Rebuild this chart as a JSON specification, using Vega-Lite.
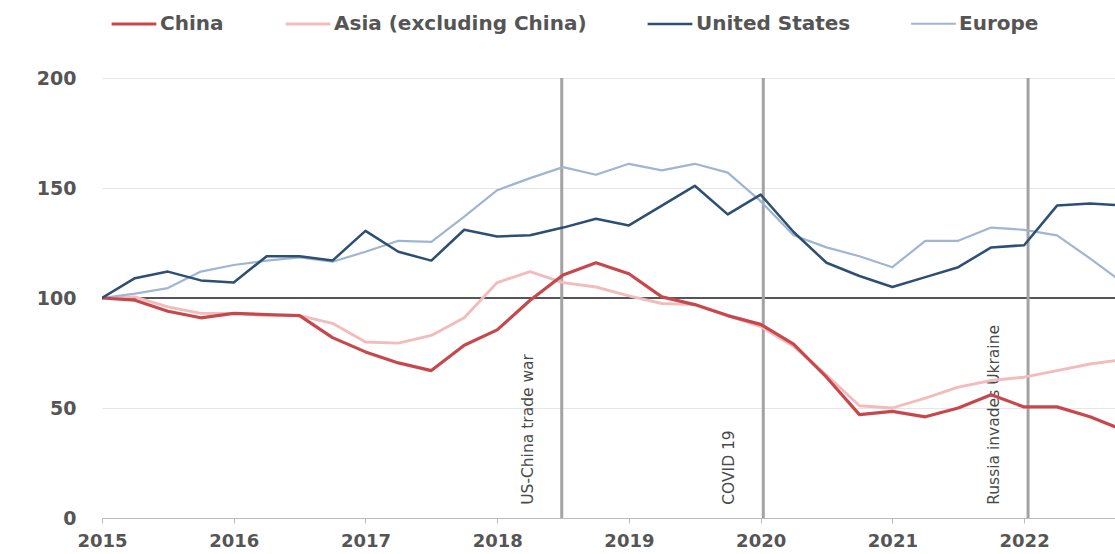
{
  "$schema": "https://vega.github.io/schema/vega-lite/v6.json",
  "width": 1013,
  "height": 440,
  "autosize": "none",
  "padding": {"left": 102, "top": 78, "right": 0, "bottom": 36},
  "background": "white",
  "config": {"view": {"stroke": null}, "font": "DejaVu Sans"},
  "datasets": {
    "events": [
      {"event": "US-China trade war", "t": 2018.49},
      {"event": "COVID 19", "t": 2020.02},
      {"event": "Russia invades Ukraine", "t": 2022.03}
    ],
    "series": [
      {"s": "Asia (excluding China)", "t": 2015.0, "v": 100},
      {"s": "Asia (excluding China)", "t": 2015.25, "v": 100.5},
      {"s": "Asia (excluding China)", "t": 2015.5, "v": 96},
      {"s": "Asia (excluding China)", "t": 2015.75, "v": 93},
      {"s": "Asia (excluding China)", "t": 2016.0, "v": 93},
      {"s": "Asia (excluding China)", "t": 2016.25, "v": 92},
      {"s": "Asia (excluding China)", "t": 2016.5, "v": 92},
      {"s": "Asia (excluding China)", "t": 2016.75, "v": 88.5},
      {"s": "Asia (excluding China)", "t": 2017.0, "v": 80},
      {"s": "Asia (excluding China)", "t": 2017.25, "v": 79.5},
      {"s": "Asia (excluding China)", "t": 2017.5, "v": 83},
      {"s": "Asia (excluding China)", "t": 2017.75, "v": 91},
      {"s": "Asia (excluding China)", "t": 2018.0, "v": 107},
      {"s": "Asia (excluding China)", "t": 2018.25, "v": 112},
      {"s": "Asia (excluding China)", "t": 2018.5, "v": 107},
      {"s": "Asia (excluding China)", "t": 2018.75, "v": 105},
      {"s": "Asia (excluding China)", "t": 2019.0, "v": 101},
      {"s": "Asia (excluding China)", "t": 2019.25, "v": 97.5},
      {"s": "Asia (excluding China)", "t": 2019.5, "v": 97},
      {"s": "Asia (excluding China)", "t": 2019.75, "v": 92},
      {"s": "Asia (excluding China)", "t": 2020.0, "v": 87},
      {"s": "Asia (excluding China)", "t": 2020.25, "v": 78},
      {"s": "Asia (excluding China)", "t": 2020.5, "v": 65},
      {"s": "Asia (excluding China)", "t": 2020.75, "v": 51},
      {"s": "Asia (excluding China)", "t": 2021.0, "v": 50},
      {"s": "Asia (excluding China)", "t": 2021.25, "v": 54.5},
      {"s": "Asia (excluding China)", "t": 2021.5, "v": 59.5},
      {"s": "Asia (excluding China)", "t": 2021.75, "v": 62.5},
      {"s": "Asia (excluding China)", "t": 2022.0, "v": 64},
      {"s": "Asia (excluding China)", "t": 2022.25, "v": 67},
      {"s": "Asia (excluding China)", "t": 2022.5, "v": 70},
      {"s": "Asia (excluding China)", "t": 2022.75, "v": 72},
      {"s": "Europe", "t": 2015.0, "v": 100},
      {"s": "Europe", "t": 2015.25, "v": 102},
      {"s": "Europe", "t": 2015.5, "v": 104.5},
      {"s": "Europe", "t": 2015.75, "v": 112},
      {"s": "Europe", "t": 2016.0, "v": 115},
      {"s": "Europe", "t": 2016.25, "v": 117},
      {"s": "Europe", "t": 2016.5, "v": 118.5},
      {"s": "Europe", "t": 2016.75, "v": 116.5},
      {"s": "Europe", "t": 2017.0, "v": 121},
      {"s": "Europe", "t": 2017.25, "v": 126},
      {"s": "Europe", "t": 2017.5, "v": 125.5},
      {"s": "Europe", "t": 2017.75, "v": 137},
      {"s": "Europe", "t": 2018.0, "v": 149},
      {"s": "Europe", "t": 2018.25, "v": 154.5},
      {"s": "Europe", "t": 2018.5, "v": 159.5},
      {"s": "Europe", "t": 2018.75, "v": 156},
      {"s": "Europe", "t": 2019.0, "v": 161},
      {"s": "Europe", "t": 2019.25, "v": 158},
      {"s": "Europe", "t": 2019.5, "v": 161},
      {"s": "Europe", "t": 2019.75, "v": 157},
      {"s": "Europe", "t": 2020.0, "v": 144},
      {"s": "Europe", "t": 2020.25, "v": 128.5},
      {"s": "Europe", "t": 2020.5, "v": 123},
      {"s": "Europe", "t": 2020.75, "v": 119},
      {"s": "Europe", "t": 2021.0, "v": 114},
      {"s": "Europe", "t": 2021.25, "v": 126},
      {"s": "Europe", "t": 2021.5, "v": 126},
      {"s": "Europe", "t": 2021.75, "v": 132},
      {"s": "Europe", "t": 2022.0, "v": 131},
      {"s": "Europe", "t": 2022.25, "v": 128.5},
      {"s": "Europe", "t": 2022.5, "v": 118},
      {"s": "Europe", "t": 2022.75, "v": 107},
      {"s": "China", "t": 2015.0, "v": 100},
      {"s": "China", "t": 2015.25, "v": 99},
      {"s": "China", "t": 2015.5, "v": 94},
      {"s": "China", "t": 2015.75, "v": 91},
      {"s": "China", "t": 2016.0, "v": 93},
      {"s": "China", "t": 2016.25, "v": 92.5},
      {"s": "China", "t": 2016.5, "v": 92},
      {"s": "China", "t": 2016.75, "v": 82},
      {"s": "China", "t": 2017.0, "v": 75.5},
      {"s": "China", "t": 2017.25, "v": 70.5},
      {"s": "China", "t": 2017.5, "v": 67},
      {"s": "China", "t": 2017.75, "v": 78.5},
      {"s": "China", "t": 2018.0, "v": 85.5},
      {"s": "China", "t": 2018.25, "v": 99},
      {"s": "China", "t": 2018.5, "v": 110.5},
      {"s": "China", "t": 2018.75, "v": 116},
      {"s": "China", "t": 2019.0, "v": 111},
      {"s": "China", "t": 2019.25, "v": 100.5},
      {"s": "China", "t": 2019.5, "v": 97},
      {"s": "China", "t": 2019.75, "v": 92},
      {"s": "China", "t": 2020.0, "v": 88},
      {"s": "China", "t": 2020.25, "v": 79},
      {"s": "China", "t": 2020.5, "v": 64},
      {"s": "China", "t": 2020.75, "v": 47},
      {"s": "China", "t": 2021.0, "v": 48.5},
      {"s": "China", "t": 2021.25, "v": 46},
      {"s": "China", "t": 2021.5, "v": 50},
      {"s": "China", "t": 2021.75, "v": 56},
      {"s": "China", "t": 2022.0, "v": 50.5},
      {"s": "China", "t": 2022.25, "v": 50.5},
      {"s": "China", "t": 2022.5, "v": 46},
      {"s": "China", "t": 2022.75, "v": 40},
      {"s": "United States", "t": 2015.0, "v": 100},
      {"s": "United States", "t": 2015.25, "v": 109},
      {"s": "United States", "t": 2015.5, "v": 112},
      {"s": "United States", "t": 2015.75, "v": 108},
      {"s": "United States", "t": 2016.0, "v": 107},
      {"s": "United States", "t": 2016.25, "v": 119},
      {"s": "United States", "t": 2016.5, "v": 119},
      {"s": "United States", "t": 2016.75, "v": 117},
      {"s": "United States", "t": 2017.0, "v": 130.5},
      {"s": "United States", "t": 2017.25, "v": 121},
      {"s": "United States", "t": 2017.5, "v": 117},
      {"s": "United States", "t": 2017.75, "v": 131},
      {"s": "United States", "t": 2018.0, "v": 128},
      {"s": "United States", "t": 2018.25, "v": 128.5},
      {"s": "United States", "t": 2018.5, "v": 132},
      {"s": "United States", "t": 2018.75, "v": 136},
      {"s": "United States", "t": 2019.0, "v": 133},
      {"s": "United States", "t": 2019.25, "v": 142},
      {"s": "United States", "t": 2019.5, "v": 151},
      {"s": "United States", "t": 2019.75, "v": 138},
      {"s": "United States", "t": 2020.0, "v": 147},
      {"s": "United States", "t": 2020.25, "v": 130},
      {"s": "United States", "t": 2020.5, "v": 116},
      {"s": "United States", "t": 2020.75, "v": 110},
      {"s": "United States", "t": 2021.0, "v": 105},
      {"s": "United States", "t": 2021.25, "v": 109.5},
      {"s": "United States", "t": 2021.5, "v": 114},
      {"s": "United States", "t": 2021.75, "v": 123},
      {"s": "United States", "t": 2022.0, "v": 124},
      {"s": "United States", "t": 2022.25, "v": 142},
      {"s": "United States", "t": 2022.5, "v": 143},
      {"s": "United States", "t": 2022.75, "v": 142}
    ]
  },
  "layer": [
    {
      "data": {"values": [{"v": 100}]},
      "mark": {"type": "rule", "color": "#555555", "strokeWidth": 2},
      "encoding": {
        "y": {"field": "v", "type": "quantitative", "scale": {"domain": [0, 200], "nice": false}}
      }
    },
    {
      "data": {"name": "events"},
      "mark": {"type": "rule", "color": "#a3a3a3", "strokeWidth": 3},
      "encoding": {
        "x": {"field": "t", "type": "quantitative", "scale": {"domain": [2015, 2022.69], "nice": false, "zero": false}}
      }
    },
    {
      "data": {"name": "events"},
      "mark": {"type": "text", "angle": 270, "align": "left", "baseline": "bottom", "dy": -26, "fontSize": 15.5, "color": "#4a4a4a", "font": "DejaVu Sans"},
      "encoding": {
        "x": {"field": "t", "type": "quantitative"},
        "y": {"datum": 6, "type": "quantitative"},
        "text": {"field": "event", "type": "nominal"}
      }
    },
    {
      "data": {"name": "series"},
      "mark": {"type": "line", "clip": true, "strokeJoin": "round", "strokeCap": "round"},
      "encoding": {
        "x": {
          "field": "t", "type": "quantitative",
          "scale": {"domain": [2015, 2022.69], "nice": false, "zero": false},
          "axis": {
            "title": null, "values": [2015, 2016, 2017, 2018, 2019, 2020, 2021, 2022], "format": "d",
            "labelFlush": false, "grid": false, "tickSize": 5, "tickColor": "#bbbbbb", "domainColor": "#bbbbbb",
            "labelFont": "DejaVu Sans", "labelFontWeight": "bold", "labelFontSize": 18, "labelColor": "#555555", "labelPadding": 9
          }
        },
        "y": {
          "field": "v", "type": "quantitative",
          "scale": {"domain": [0, 200], "nice": false},
          "axis": {
            "title": null, "values": [0, 50, 100, 150, 200], "grid": true, "gridColor": "#e6e6e6", "domain": false, "ticks": false,
            "labelFont": "DejaVu Sans", "labelFontWeight": "bold", "labelFontSize": 19, "labelColor": "#555555", "labelPadding": 26
          }
        },
        "color": {
          "field": "s", "type": "nominal",
          "scale": {
            "domain": ["China", "Asia (excluding China)", "United States", "Europe"],
            "range": ["#c7484c", "#f2bcbc", "#2d4f74", "#9fb6d2"]
          },
          "legend": {
            "title": null, "orient": "none", "legendX": 8, "legendY": -78, "direction": "horizontal",
            "symbolType": "stroke", "symbolSize": 2000, "symbolStrokeWidth": 3, "labelOffset": 2, "columnPadding": 55,
            "labelLimit": 500,
            "labelFont": "DejaVu Sans", "labelFontWeight": "bold", "labelFontSize": 20, "labelColor": "#555555"
          }
        },
        "strokeWidth": {
          "field": "s", "type": "nominal",
          "scale": {"domain": ["China", "Asia (excluding China)", "United States", "Europe"], "range": [3.2, 2.2, 3.3, 2.6]},
          "legend": null
        }
      }
    }
  ]
}
